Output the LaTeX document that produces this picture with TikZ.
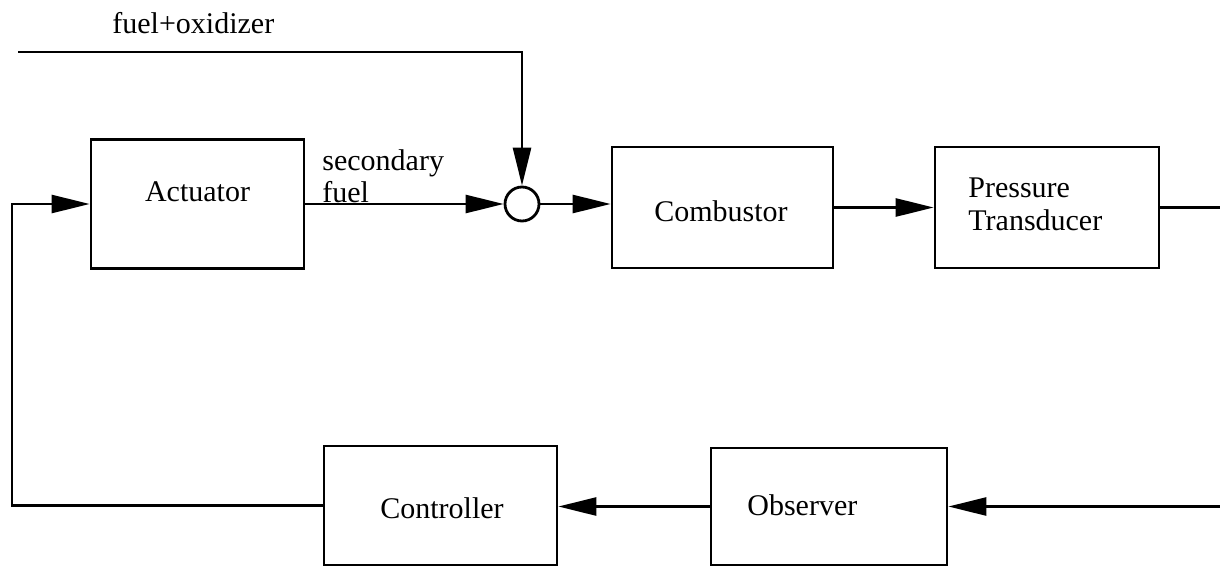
\documentclass[tikz,border=0pt]{standalone}
\usepackage{fontspec}
\setmainfont{Liberation Serif}
\usetikzlibrary{arrows.meta}
\begin{document}
\begin{tikzpicture}[x=0.5pt,y=-0.5pt,
  blk/.style={draw, line width=1.4pt, inner sep=0pt, rectangle},
  lbl/.style={font=\fontsize{15}{18}\selectfont, inner sep=0pt, anchor=base west},
  lblc/.style={font=\fontsize{15}{18}\selectfont, inner sep=0pt, anchor=base},
  conn/.style={line width=1.4pt},
  arr/.style={conn, -{Triangle[length=19pt,width=9pt]}}]
\useasboundingbox (0,0) rectangle (1220,567);
% blocks
\node[blk, minimum width=106.5pt, minimum height=64.5pt] (act) at (197.5,204) {};
\node[draw, circle, line width=1.4pt, minimum size=17pt, inner sep=0pt] (sum) at (522,204) {};
\node[blk, minimum width=110.5pt, minimum height=60.5pt] (comb) at (722.5,207.5) {};
\node[blk, minimum width=112pt, minimum height=60.5pt] (pt) at (1047,207.5) {};
\node[blk, minimum width=116.5pt, minimum height=59.5pt] (ctrl) at (440.5,505.5) {};
\node[blk, minimum width=118pt, minimum height=58.5pt] (obs) at (829,506.5) {};
% labels
\node[lbl] (tfuelox) at (112,34) {fuel+oxidizer};
\node[lbl] (tsec) at (322,170) {secondary};
\node[lbl] (tfuel) at (322,202) {fuel};
\node[lblc] (tact) at (197.5,201) {Actuator};
\node[lblc] (tcomb) at (721,221) {Combustor};
\node[lbl] (tpress) at (968,197) {Pressure};
\node[lbl] (ttrans) at (968,230) {Transducer};
\node[lblc] (tctrl) at (442,518) {Controller};
\node[lbl] (tobs) at (747,515) {Observer};
% free ends
\coordinate (fin) at (18,52);
\coordinate (fcorner) at (522,52);
\coordinate (ptout) at (1220,207.5);
\coordinate (obsin) at (1220,506.5);
\coordinate (fbl) at (12,505.5);
% connectors
\draw[arr] (fin) -- (fcorner) -- (sum.north);
\draw[arr] (act.east) -- (sum.west);
\draw[arr] (sum.east) -- (sum.east -| comb.west);
\draw[arr] (comb.east) -- (pt.west);
\draw[conn] (pt.east) -- (ptout);
\draw[arr] (obsin) -- (obs.east);
\draw[arr] (obs.west) -- (obs.west -| ctrl.east);
\draw[arr] (ctrl.west) -- (fbl) |- (act.west);
\end{tikzpicture}
\end{document}
